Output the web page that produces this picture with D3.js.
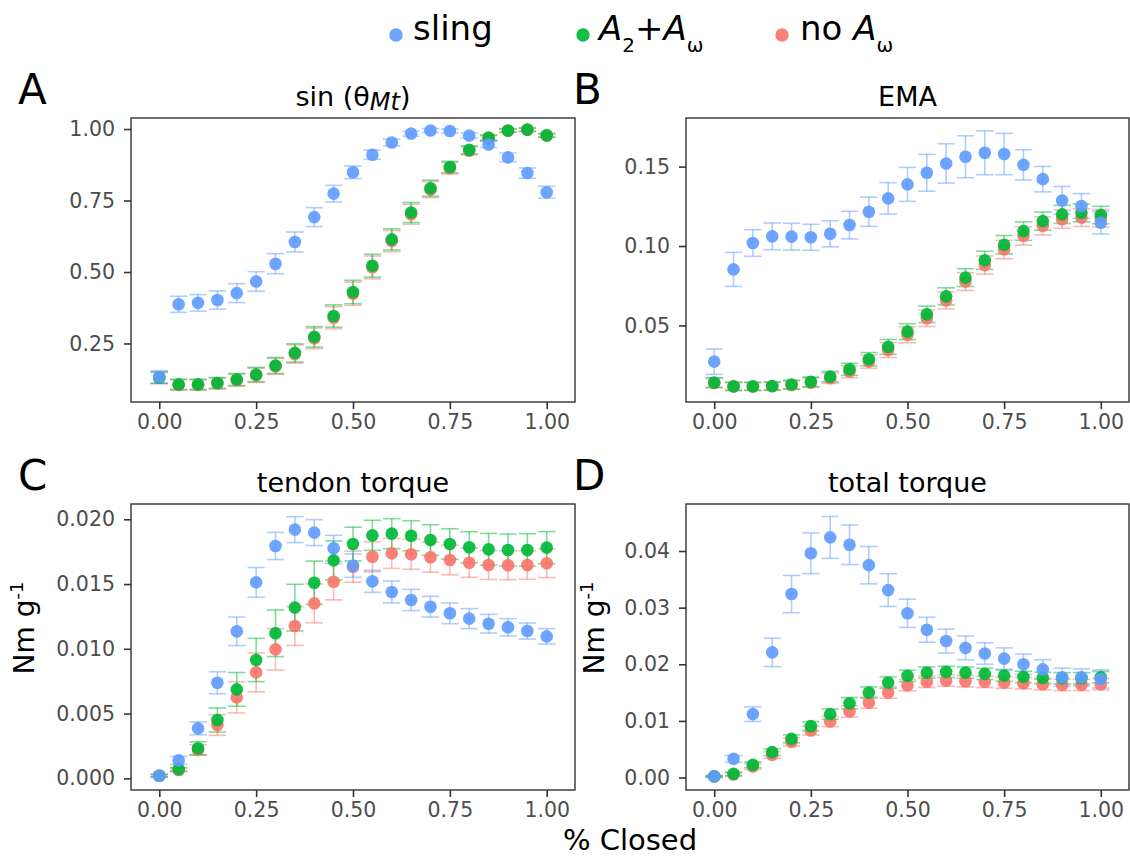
<!DOCTYPE html>
<html>
<head>
<meta charset="utf-8">
<script src="https://cdn.jsdelivr.net/npm/d3@7"></script>
<style>
  body { margin: 0; background: #fff; }
  svg text { font-family: "DejaVu Sans", Verdana, sans-serif; }
</style>
</head>
<body>
<svg id="chart" width="1130" height="860"></svg>
<script>
"use strict";

// % closed, shared by all four panels
const closed = [0, 0.05, 0.1, 0.15, 0.2, 0.25, 0.3, 0.35, 0.4, 0.45, 0.5,
  0.55, 0.6, 0.65, 0.7, 0.75, 0.8, 0.85, 0.9, 0.95, 1];
const xTicks = [0, 0.25, 0.5, 0.75, 1];

const seriesKeys = ["noAw", "both", "sling"];
const colors = { sling: "#619CFF", both: "#00BA38", noAw: "#F8766D" };

// A: sin(theta Mt)
const sinSling = [0.133, 0.387, 0.392, 0.402, 0.426, 0.467, 0.529, 0.605, 0.692, 0.774, 0.849,
  0.910, 0.953, 0.984, 0.995, 0.993, 0.977, 0.946, 0.901, 0.846, 0.779];
const sinSlingErr = [0.022, 0.028, 0.029, 0.032, 0.033, 0.034, 0.035, 0.035, 0.033, 0.029, 0.022,
  0.016, 0.012, 0.009, 0.007, 0.007, 0.009, 0.011, 0.015, 0.018, 0.021];
const sinBoth = [0.130, 0.107, 0.107, 0.112, 0.124, 0.141, 0.173, 0.217, 0.273, 0.346, 0.430,
  0.522, 0.614, 0.708, 0.793, 0.867, 0.927, 0.970, 0.995, 0.998, 0.978];
const sinBothErr = [0.020, 0.018, 0.018, 0.019, 0.021, 0.025, 0.028, 0.032, 0.036, 0.039, 0.041,
  0.040, 0.037, 0.035, 0.028, 0.020, 0.014, 0.009, 0.006, 0.006, 0.006];
const sinNoAw = [0.130, 0.105, 0.105, 0.110, 0.122, 0.139, 0.170, 0.213, 0.268, 0.340, 0.424,
  0.516, 0.608, 0.702, 0.788, 0.863, 0.924, 0.968, 0.994, 0.997, 0.977];
const sinNoAwErr = [0.020, 0.018, 0.018, 0.019, 0.021, 0.025, 0.028, 0.032, 0.036, 0.039, 0.041,
  0.040, 0.037, 0.035, 0.028, 0.020, 0.014, 0.009, 0.006, 0.006, 0.006];

// B: EMA
const emaSling = [0.0272, 0.0853, 0.1019, 0.1061, 0.1059, 0.1055, 0.1077, 0.1132, 0.1216, 0.1300, 0.1388,
  0.1461, 0.1520, 0.1562, 0.1587, 0.1579, 0.1511, 0.1421, 0.1287, 0.1252, 0.1147];
const emaSlingErr = [0.0080, 0.0107, 0.0084, 0.0084, 0.0084, 0.0082, 0.0082, 0.0087, 0.0092, 0.0099, 0.0107,
  0.0116, 0.0124, 0.0132, 0.0138, 0.0130, 0.0095, 0.0080, 0.0088, 0.0078, 0.0071];
const emaBoth = [0.0140, 0.0117, 0.0117, 0.0119, 0.0128, 0.0145, 0.0178, 0.0224, 0.0287, 0.0365, 0.0461,
  0.0570, 0.0683, 0.0801, 0.0910, 0.1008, 0.1094, 0.1157, 0.1199, 0.1209, 0.1195];
const emaBothErr = [0.0030, 0.0025, 0.0025, 0.0025, 0.0027, 0.0030, 0.0033, 0.0038, 0.0042, 0.0047, 0.0050,
  0.0052, 0.0054, 0.0056, 0.0057, 0.0058, 0.0058, 0.0057, 0.0057, 0.0056, 0.0055];
const emaNoAw = [0.0138, 0.0115, 0.0115, 0.0117, 0.0125, 0.0140, 0.0168, 0.0209, 0.0272, 0.0345, 0.0441,
  0.0545, 0.0658, 0.0776, 0.0880, 0.0978, 0.1064, 0.1127, 0.1169, 0.1179, 0.1175];
const emaNoAwErr = [0.0030, 0.0025, 0.0025, 0.0025, 0.0027, 0.0030, 0.0033, 0.0038, 0.0042, 0.0047, 0.0050,
  0.0052, 0.0054, 0.0056, 0.0057, 0.0058, 0.0058, 0.0057, 0.0057, 0.0056, 0.0055];

// C: tendon torque
const tendonSling = [0.0002, 0.00139, 0.00386, 0.00738, 0.01135, 0.01513, 0.01794, 0.0192, 0.01897, 0.01776, 0.01642,
  0.01521, 0.01439, 0.01377, 0.01325, 0.01274, 0.01233, 0.01194, 0.01166, 0.01137, 0.01096];
const tendonSlingErr = [0.0001, 0.0003, 0.0005, 0.00085, 0.0011, 0.00115, 0.00105, 0.001, 0.001, 0.001, 0.0009,
  0.00085, 0.00085, 0.00082, 0.0008, 0.0008, 0.00077, 0.00072, 0.00067, 0.00062, 0.0006];
const tendonBoth = [0.0002, 0.0007, 0.00232, 0.0045, 0.00687, 0.00914, 0.0112, 0.01318, 0.0151, 0.01683, 0.01809,
  0.01876, 0.01889, 0.01873, 0.0184, 0.01809, 0.01784, 0.01768, 0.01763, 0.01763, 0.01781];
const tendonBothErr = [0.0001, 0.00013, 0.0005, 0.00093, 0.0013, 0.00167, 0.0018, 0.0018, 0.00167, 0.0015, 0.0013,
  0.00116, 0.00116, 0.00116, 0.00118, 0.00118, 0.0012, 0.00123, 0.00123, 0.00126, 0.00124];
const tendonNoAw = [0.0002, 0.00064, 0.00219, 0.00412, 0.00625, 0.00818, 0.00996, 0.01176, 0.01351, 0.01518, 0.01634,
  0.01711, 0.01737, 0.0173, 0.01707, 0.01686, 0.01665, 0.01647, 0.01645, 0.01647, 0.0166];
const tendonNoAwErr = [0.0001, 0.00013, 0.0004, 0.0008, 0.0012, 0.0015, 0.0016, 0.0015, 0.0015, 0.0014, 0.0012,
  0.00116, 0.00116, 0.00116, 0.00116, 0.00114, 0.00113, 0.00112, 0.00111, 0.0011, 0.0011];

// D: total torque
const totalSling = [0.0002, 0.0033, 0.0112, 0.0221, 0.0324, 0.0396, 0.0424, 0.0411, 0.0375, 0.0331, 0.0290,
  0.0261, 0.0241, 0.0229, 0.0219, 0.0210, 0.0200, 0.0191, 0.0177, 0.0177, 0.0174];
const totalSlingErr = [0.0002, 0.0006, 0.0013, 0.0025, 0.0033, 0.0036, 0.0037, 0.0035, 0.0033, 0.0029, 0.0025,
  0.0022, 0.0021, 0.0021, 0.0019, 0.0019, 0.0018, 0.0017, 0.0016, 0.0015, 0.0016];
const totalBoth = [0.0002, 0.00065, 0.00224, 0.00448, 0.00683, 0.00907, 0.01119, 0.01313, 0.0150, 0.01676, 0.01795,
  0.01853, 0.01865, 0.01853, 0.0183, 0.0180, 0.01777, 0.01759, 0.01753, 0.01753, 0.01772];
const totalBothErr = [0.0001, 0.0003, 0.0005, 0.0006, 0.0007, 0.0008, 0.0009, 0.001, 0.001, 0.001, 0.001,
  0.001, 0.001, 0.001, 0.001, 0.001, 0.001, 0.001, 0.001, 0.001, 0.001];
const totalNoAw = [0.0002, 0.00053, 0.00194, 0.0040, 0.0063, 0.0083, 0.0099, 0.01165, 0.01323, 0.0150, 0.0163,
  0.01689, 0.01712, 0.0170, 0.01689, 0.01676, 0.01666, 0.01648, 0.01636, 0.01636, 0.01648];
const totalNoAwErr = [0.0001, 0.0003, 0.0005, 0.0006, 0.0007, 0.0008, 0.0009, 0.001, 0.001, 0.001, 0.001,
  0.001, 0.001, 0.001, 0.001, 0.001, 0.001, 0.001, 0.001, 0.001, 0.001];

const panels = [
  {
    letter: "A", left: 131, top: 118, right: 575, bottom: 402,
    yDomain: [0.0453, 1.0386], yTicks: [0.25, 0.5, 0.75, 1], yFormat: ".2f",
    title: [{ t: "sin (θ" }, { t: "Mt", italic: true, sub: true }, { t: ")" }],
    ylabel: null,
    series: {
      sling: [sinSling, sinSlingErr],
      both: [sinBoth, sinBothErr],
      noAw: [sinNoAw, sinNoAwErr],
    },
  },
  {
    letter: "B", left: 686, top: 118, right: 1129, bottom: 402,
    yDomain: [0.0018, 0.1806], yTicks: [0.05, 0.1, 0.15], yFormat: ".2f",
    title: [{ t: "EMA" }],
    ylabel: null,
    series: {
      sling: [emaSling, emaSlingErr],
      both: [emaBoth, emaBothErr],
      noAw: [emaNoAw, emaNoAwErr],
    },
  },
  {
    letter: "C", left: 131, top: 504, right: 575, bottom: 790,
    yDomain: [-0.0009, 0.02118], yTicks: [0, 0.005, 0.01, 0.015, 0.02], yFormat: ".3f",
    title: [{ t: "tendon torque" }],
    ylabel: 34,
    series: {
      sling: [tendonSling, tendonSlingErr],
      both: [tendonBoth, tendonBothErr],
      noAw: [tendonNoAw, tendonNoAwErr],
    },
  },
  {
    letter: "D", left: 686, top: 504, right: 1129, bottom: 790,
    yDomain: [-0.0022, 0.0483], yTicks: [0, 0.01, 0.02, 0.03, 0.04], yFormat: ".2f",
    title: [{ t: "total torque" }],
    ylabel: 604,
    series: {
      sling: [totalSling, totalSlingErr],
      both: [totalBoth, totalBothErr],
      noAw: [totalNoAw, totalNoAwErr],
    },
  },
];

const svg = d3.select("#chart");
panels.forEach((p) => drawPanel(svg, p));
drawLegend(svg);

// "% Closed" shared x title
svg
  .append("text")
  .attr("x", 630)
  .attr("y", 850)
  .attr("text-anchor", "middle")
  .attr("font-size", 29)
  .attr("fill", "#000")
  .text("% Closed");

function drawPanel(svg, p) {
  const x = d3.scaleLinear().domain([-0.073, 1.073]).range([p.left, p.right]);
  const y = d3.scaleLinear().domain(p.yDomain).range([p.bottom, p.top]);
  const g = svg.append("g");

  // axes
  const xAxis = g
    .append("g")
    .attr("transform", `translate(0,${p.bottom})`)
    .call(
      d3.axisBottom(x).tickValues(xTicks).tickFormat(d3.format(".2f")).tickSize(7).tickPadding(5)
    );
  const yAxis = g
    .append("g")
    .attr("transform", `translate(${p.left},0)`)
    .call(
      d3.axisLeft(y).tickValues(p.yTicks).tickFormat(d3.format(p.yFormat)).tickSize(7).tickPadding(9)
    );
  [xAxis, yAxis].forEach((a) => {
    a.select(".domain").remove();
    a.selectAll(".tick line").attr("stroke", "#333").attr("stroke-width", 1.6);
    a.selectAll(".tick text")
      .attr("fill", "#4d4d4d")
      .attr("font-size", 20.5)
      .attr("font-family", '"DejaVu Sans", Verdana, sans-serif');
  });

  // error bars first, then points on top
  const half = 0.0225;
  seriesKeys.forEach((k) => {
    const [vals, errs] = p.series[k];
    const eb = g
      .append("g")
      .attr("stroke", colors[k])
      .attr("stroke-opacity", 0.5)
      .attr("stroke-width", 1.6)
      .selectAll("g")
      .data(closed)
      .enter()
      .append("g");
    eb.append("line")
      .attr("x1", (d) => x(d))
      .attr("x2", (d) => x(d))
      .attr("y1", (d, i) => y(vals[i] - errs[i]))
      .attr("y2", (d, i) => y(vals[i] + errs[i]));
    eb.append("line")
      .attr("x1", (d) => x(d - half))
      .attr("x2", (d) => x(d + half))
      .attr("y1", (d, i) => y(vals[i] - errs[i]))
      .attr("y2", (d, i) => y(vals[i] - errs[i]));
    eb.append("line")
      .attr("x1", (d) => x(d - half))
      .attr("x2", (d) => x(d + half))
      .attr("y1", (d, i) => y(vals[i] + errs[i]))
      .attr("y2", (d, i) => y(vals[i] + errs[i]));
  });

  seriesKeys.forEach((k) => {
    const vals = p.series[k][0];
    g.append("g")
      .selectAll("circle")
      .data(closed)
      .enter()
      .append("circle")
      .attr("cx", (d) => x(d))
      .attr("cy", (d, i) => y(vals[i]))
      .attr("r", 6.3)
      .attr("fill", colors[k])
      .attr("fill-opacity", 0.92);
  });

  // panel frame
  g.append("rect")
    .attr("x", p.left)
    .attr("y", p.top)
    .attr("width", p.right - p.left)
    .attr("height", p.bottom - p.top)
    .attr("fill", "none")
    .attr("stroke", "#333")
    .attr("stroke-width", 1.4);

  // title
  const title = g
    .append("text")
    .attr("x", (p.left + p.right) / 2)
    .attr("y", p.top - 12)
    .attr("text-anchor", "middle")
    .attr("font-size", 27);
  p.title.forEach((part) => {
    const ts = title.append("tspan").text(part.t);
    if (part.italic) ts.attr("font-style", "italic");
    if (part.sub) ts.attr("font-size", 24).attr("dy", 4);
    else if (ts.node().previousSibling) ts.attr("dy", -4);
  });

  // panel letter
  g.append("text")
    .attr("x", p.left - 113)
    .attr("y", p.top - 14)
    .attr("font-size", 42)
    .text(p.letter);

  if (p.ylabel !== null) {
    const lab = g
      .append("text")
      .attr("transform", `translate(${p.ylabel},628) rotate(-90)`)
      .attr("text-anchor", "middle")
      .attr("font-size", 28);
    lab.append("tspan").text("Nm g");
    lab.append("tspan").attr("font-size", 18).attr("dy", -11).text("-1");
  }
}

function drawLegend(svg) {
  const items = [
    { key: "sling", cx: 396, tx: 413, parts: [{ t: "sling" }] },
    {
      key: "both", cx: 583, tx: 599,
      parts: [
        { t: "A", italic: true },
        { t: "2", sub: true },
        { t: "+" },
        { t: "A", italic: true },
        { t: "ω", sub: true },
      ],
    },
    {
      key: "noAw", cx: 782, tx: 800,
      parts: [{ t: "no " }, { t: "A", italic: true }, { t: "ω", sub: true }],
    },
  ];
  const legend = svg.append("g").attr("id", "legend");

  legend
    .selectAll("circle")
    .data(items)
    .enter()
    .append("circle")
    .attr("cx", (d) => d.cx)
    .attr("cy", 35)
    .attr("r", 6.7)
    .attr("fill", (d) => colors[d.key])
    .attr("fill-opacity", 0.92);

  items.forEach((it) => {
    const t = legend
      .append("text")
      .attr("x", it.tx)
      .attr("y", 40)
      .attr("font-size", 34);
    let down = false;
    it.parts.forEach((part) => {
      const ts = t.append("tspan").text(part.t);
      if (part.italic) ts.attr("font-style", "italic");
      if (part.sub) {
        ts.attr("font-size", 20).attr("dy", 12);
        down = true;
      } else if (down) {
        ts.attr("dy", -12);
        down = false;
      }
    });
  });
}
</script>
</body>
</html>
